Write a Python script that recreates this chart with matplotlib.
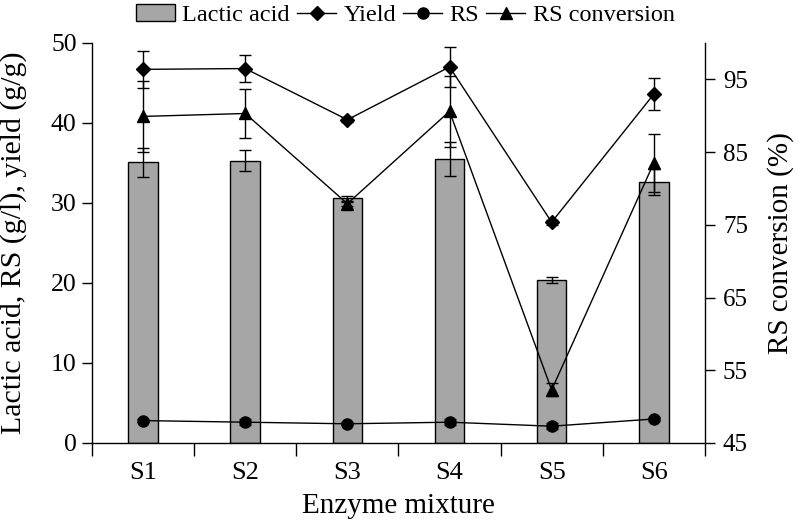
import matplotlib
matplotlib.use("Agg")
import matplotlib.pyplot as plt
from matplotlib.lines import Line2D
from matplotlib.patches import Patch
import numpy as np

plt.rcParams['font.family'] = ['Liberation Serif', 'DejaVu Serif']
plt.rcParams['mathtext.fontset'] = 'stix'

categories = ["S1", "S2", "S3", "S4", "S5", "S6"]
lactic_acid = [35.1, 35.3, 30.6, 35.5, 20.4, 32.6]
lactic_err = [1.8, 1.3, 0.3, 2.1, 0.4, 1.6]
yield_vals = [46.7, 46.8, 40.4, 47.0, 27.6, 43.6]
yield_err = [2.3, 1.7, 0.3, 2.5, 0.3, 2.0]
rs_vals = [2.8, 2.6, 2.4, 2.6, 2.1, 3.0]
rs_err = [0.2, 0.4, 0.2, 0.4, 0.4, 0.2]
rs_conv = [89.9, 90.3, 77.9, 90.6, 52.3, 83.5]
rs_conv_err = [4.9, 3.4, 0.3, 4.9, 0.9, 4.0]

fig = plt.figure(figsize=(7.98, 5.25), dpi=100)
ax = fig.add_axes([0.1153, 0.1562, 0.768, 0.762])
ax2 = ax.twinx()

x = np.arange(len(categories))
ax.bar(x, lactic_acid, width=0.29, color='#a6a6a6', edgecolor='black', linewidth=1.0, zorder=2)
ax.errorbar(x, lactic_acid, yerr=lactic_err, fmt='none', ecolor='black', elinewidth=1, capsize=4, capthick=1, zorder=3)

ax.errorbar(x, yield_vals, yerr=yield_err, color='black', marker='D', markersize=7.5, linewidth=1,
            elinewidth=1, capsize=4, capthick=1, zorder=4)
ax.errorbar(x, rs_vals, yerr=rs_err, color='black', marker='o', markersize=8, linewidth=1,
            elinewidth=1, capsize=4, capthick=1, zorder=4)
ax2.errorbar(x, rs_conv, yerr=rs_conv_err, color='black', marker='^', markersize=8.5, linewidth=1,
             elinewidth=1, capsize=4, capthick=1, zorder=4)

ax.set_xlim(-0.5, 5.5)
ax.set_ylim(0, 50)
ax2.set_ylim(45, 100)
ax.set_yticks([0, 10, 20, 30, 40, 50])
ax2.set_yticks([45, 55, 65, 75, 85, 95])
ax.set_xticks(x)
ax.set_xticklabels(categories)
ax.set_xticks(np.arange(-0.5, 6.0, 1.0), minor=True)
ax.tick_params(axis='x', which='major', length=0, labelsize=19, pad=14)
ax.tick_params(axis='x', which='minor', length=9, width=1, direction='out')
ax.tick_params(axis='y', length=7, width=1, direction='out', labelsize=18.5, pad=4)
ax2.tick_params(axis='y', length=7, width=1, direction='out', labelsize=18, pad=6)

for a in (ax, ax2):
    a.spines['top'].set_visible(False)
    for s in a.spines.values():
        s.set_linewidth(1)
ax.spines['right'].set_visible(False)
ax2.spines['left'].set_visible(False)
ax2.spines['bottom'].set_visible(False)

ax.set_xlabel("Enzyme mixture", fontsize=21, labelpad=6)
ax.set_ylabel("Lactic acid, RS (g/l), yield (g/g)", fontsize=21.5)
ax.yaxis.set_label_coords(-0.106, 0.5)
ax2.set_ylabel("RS conversion (%)", fontsize=21, labelpad=14)

handles = [
    Patch(facecolor='#a6a6a6', edgecolor='black', linewidth=1),
    Line2D([], [], color='black', marker='D', markersize=7, linewidth=1),
    Line2D([], [], color='black', marker='o', markersize=8, linewidth=1),
    Line2D([], [], color='black', marker='^', markersize=8, linewidth=1),
]
labels = ["Lactic acid", "Yield", "RS", "RS conversion"]
fig.legend(handles, labels, loc='center', bbox_to_anchor=(0.508, 0.971), ncol=4, frameon=False,
           fontsize=17.5, handlelength=1.6, handletextpad=0.3, columnspacing=0.3, borderpad=0)

fig.savefig("out.png", dpi=100)
